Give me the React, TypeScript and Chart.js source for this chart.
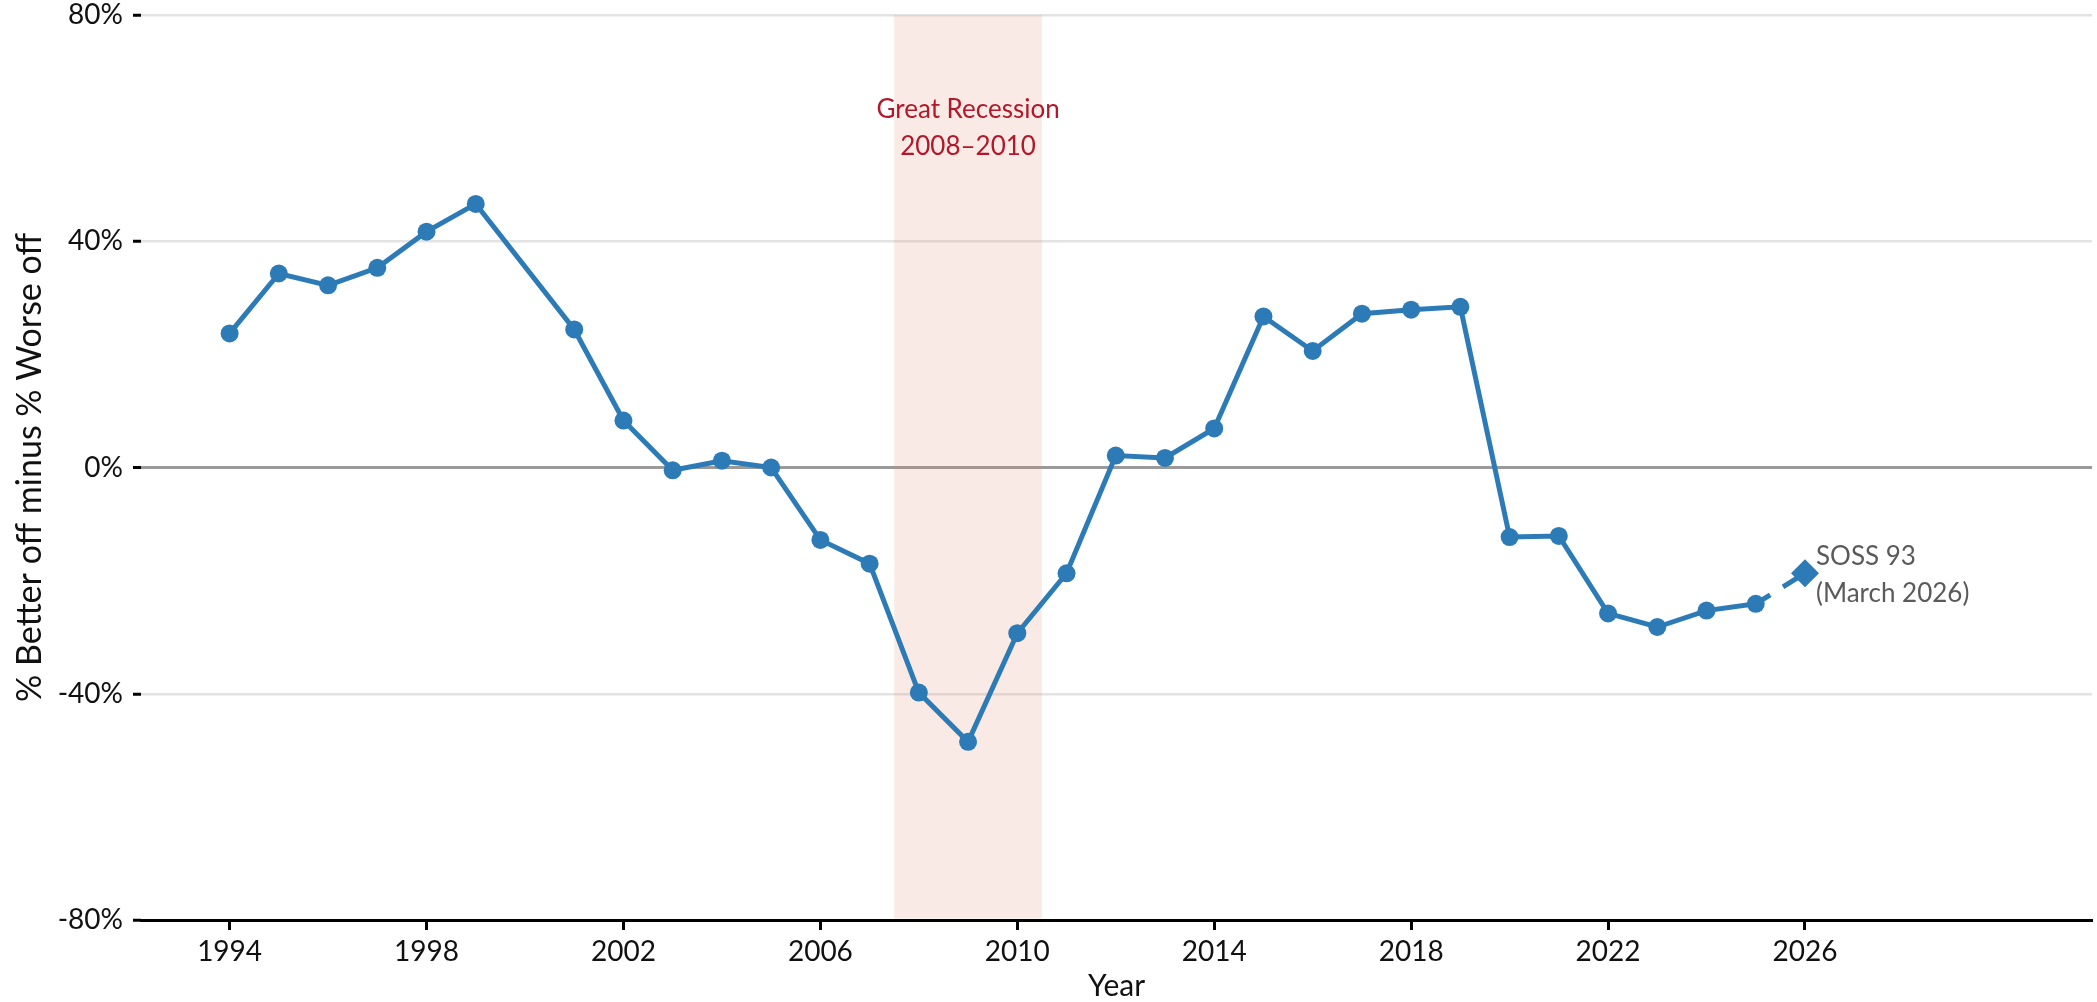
import React, { useEffect, useRef } from 'react';
import { Chart, registerables } from 'chart.js';

Chart.register(...registerables);

const FONT = 'Lato, "Noto Sans", sans-serif';

// Survey years (2000 not surveyed)
const years = [
  1994, 1995, 1996, 1997, 1998, 1999,
  2001, 2002, 2003, 2004, 2005, 2006, 2007, 2008, 2009, 2010,
  2011, 2012, 2013, 2014, 2015, 2016, 2017, 2018, 2019,
  2020, 2021, 2022, 2023, 2024, 2025,
];
// % Better off minus % Worse off
const netValues = [
  23.7, 34.3, 32.2, 35.3, 41.7, 46.6,
  24.4, 8.3, -0.5, 1.2, 0.0, -12.8, -17.0, -39.8, -48.5, -29.3,
  -18.7, 2.1, 1.7, 6.9, 26.7, 20.6, 27.2, 27.9, 28.4,
  -12.3, -12.1, -25.8, -28.2, -25.3, -24.1,
];
const latestYears = [2025, 2026];
const latestValues = [-24.1, -18.7];

const xTickYears = [1994, 1998, 2002, 2006, 2010, 2014, 2018, 2022, 2026];
const yTickValues = [-80, -40, 0, 40, 80];

const recessionStart = 2007.5;
const recessionEnd = 2010.5;
const recessionLabel = ['Great Recession', '2008–2010'];
const latestLabel = ['SOSS 93', '(March 2026)'];

const BLUE = '#2C7BB6';

const annotationPlugin = {
  id: 'annotations',
  beforeDatasetsDraw(chart: any) {
    const { ctx, chartArea, scales } = chart;
    const x = scales.x;
    const l = x.getPixelForValue(recessionStart);
    const r = x.getPixelForValue(recessionEnd);
    ctx.save();
    ctx.fillStyle = 'rgba(228,140,110,0.18)';
    ctx.fillRect(l, chartArea.top, r - l, chartArea.bottom - chartArea.top - 1.5);
    ctx.fillStyle = '#B2182B';
    ctx.font = `26px ${FONT}`;
    ctx.textAlign = 'center';
    ctx.textBaseline = 'middle';
    const cx = (l + r) / 2;
    ctx.fillText(recessionLabel[0], cx, chartArea.top + 95);
    ctx.fillText(recessionLabel[1], cx, chartArea.top + 132);
    ctx.restore();
  },
  afterDatasetsDraw(chart: any) {
    const { ctx, scales } = chart;
    const px = scales.x.getPixelForValue(latestYears[1]);
    const py = scales.y.getPixelForValue(latestValues[1]);
    ctx.save();
    ctx.fillStyle = '#5a5a5a';
    ctx.font = `26px ${FONT}`;
    ctx.textAlign = 'left';
    ctx.textBaseline = 'middle';
    ctx.fillText(latestLabel[0], px + 11, py - 17);
    ctx.fillText(latestLabel[1], px + 11, py + 20);
    ctx.restore();
  },
};

export default function App() {
  const canvasRef = useRef<HTMLCanvasElement | null>(null);

  useEffect(() => {
    const canvas = canvasRef.current;
    if (!canvas) return;
    const chart = new Chart(canvas, {
      type: 'line',
      data: {
        datasets: [
          {
            label: 'Latest',
            data: latestYears.map((yr, i) => ({ x: yr, y: latestValues[i] })),
            borderColor: BLUE,
            backgroundColor: BLUE,
            borderWidth: 5,
            borderDash: [17, 15],
            pointStyle: 'rectRot',
            pointRadius: [0, 14],
            pointBorderWidth: 0,
            tension: 0,
            order: 2,
          },
          {
            label: 'Net',
            data: years.map((yr, i) => ({ x: yr, y: netValues[i] })),
            borderColor: BLUE,
            backgroundColor: BLUE,
            borderWidth: 5,
            pointRadius: 9,
            pointBorderWidth: 0,
            tension: 0,
            order: 1,
          },
        ],
      },
      options: {
        animation: false,
        responsive: false,
        layout: { autoPadding: false, padding: { top: 15, right: 5, left: 0, bottom: 0 } },
        plugins: { legend: { display: false }, tooltip: { enabled: false } },
        scales: {
          x: {
            type: 'linear',
            min: 1992.2,
            max: 2031.83,
            afterBuildTicks: (s: any) => {
              s.ticks = xTickYears.map((v) => ({ value: v }));
            },
            afterFit: (s: any) => {
              s.height = 82;
              s.paddingLeft = 0;
              s.paddingRight = 0;
            },
            ticks: {
              autoSkip: false,
              maxRotation: 0,
              padding: 5,
              color: '#111',
              font: { family: FONT, size: 28 },
              callback: (v: any) => String(v),
            },
            grid: {
              drawOnChartArea: false,
              drawTicks: true,
              tickLength: 10,
              tickWidth: 3,
              tickColor: '#000',
            },
            border: { display: true, color: '#000', width: 3 },
            title: {
              display: true,
              text: 'Year',
              color: '#111',
              font: { family: FONT, size: 30, lineHeight: 1 },
              padding: { top: 0, bottom: 1 },
            },
          },
          y: {
            type: 'linear',
            min: -80,
            max: 80,
            afterBuildTicks: (s: any) => {
              s.ticks = yTickValues.map((v) => ({ value: v }));
            },
            afterFit: (s: any) => {
              s.width = 141;
              s.paddingTop = 0;
              s.paddingBottom = 0;
            },
            ticks: {
              padding: 10,
              color: '#111',
              font: { family: FONT, size: 28 },
              callback: (v: any) => `${v}%`,
            },
            grid: {
              color: (c: any) =>
                c.tick && c.tick.value === 0 ? '#9a9a9a' : c.tick && c.tick.value === -80 ? '#000' : '#e3e3e3',
              lineWidth: (c: any) => (c.tick && c.tick.value === 0 ? 3 : 2.5),
              tickLength: 8,
              tickWidth: 3,
              tickColor: '#000',
            },
            border: { display: false },
            title: {
              display: true,
              text: '% Better off minus % Worse off',
              color: '#111',
              font: { family: FONT, size: 34, lineHeight: 1 },
              padding: { top: 13, bottom: 0 },
            },
          },
        },
      },
      plugins: [annotationPlugin],
    } as any);
    return () => chart.destroy();
  }, []);

  return (
    <div style={{ position: 'absolute', left: 0, top: 0, width: 2097, height: 1002, background: '#fff' }}>
      <canvas ref={canvasRef} width={2097} height={1002} style={{ display: 'block' }} />
    </div>
  );
}
